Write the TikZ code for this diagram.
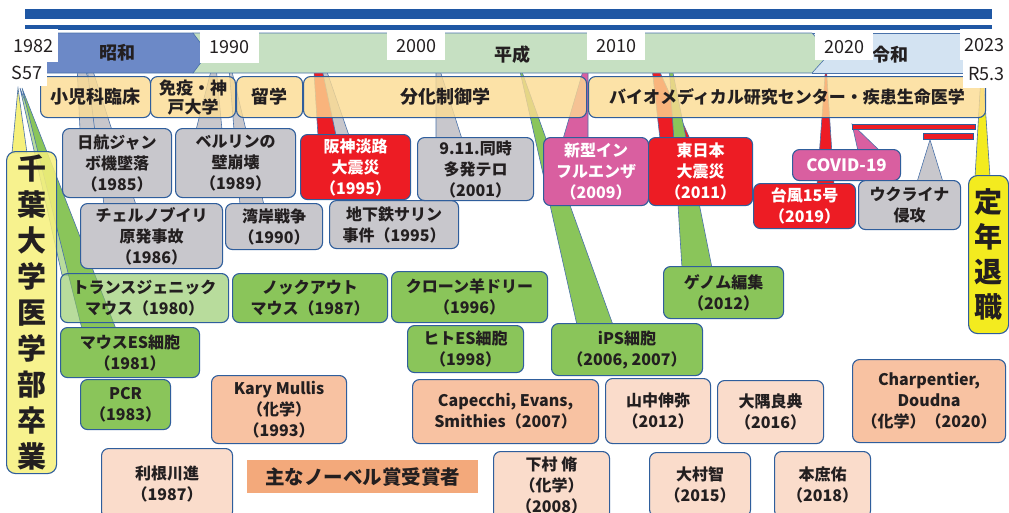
\documentclass[tikz,border=0pt]{standalone}
\usepackage{fontspec}
\setmainfont{Noto Sans CJK JP}
\usetikzlibrary{calc}
\pgfdeclarelayer{bg}
\pgfdeclarelayer{mid}
\pgfsetlayers{bg,mid,main}
\definecolor{bblue}{HTML}{2F5E9C}
\definecolor{topblue}{HTML}{1F57A4}
\definecolor{showa}{HTML}{6C89C7}
\definecolor{heisei}{HTML}{C6E0C2}
\definecolor{reiwa}{HTML}{D3E3F2}
\definecolor{beige}{HTML}{FCDB92}
\definecolor{gbox}{HTML}{C8C7CC}
\definecolor{rbox}{HTML}{ED1C24}
\definecolor{pbox}{HTML}{D95FA0}
\definecolor{grn}{HTML}{8AC55A}
\definecolor{salmon}{HTML}{F8C2A2}
\definecolor{peach}{HTML}{FADCCB}
\definecolor{lbl}{HTML}{F3A97B}
\definecolor{ylw}{HTML}{F6F07B}
\definecolor{ylw2}{HTML}{F3EB1F}
\definecolor{txt}{HTML}{231F20}
\definecolor{ptrline}{HTML}{4A72AA}
\newcommand\callptr[5]{\fill[#1, draw=ptrline, line width=.6pt] ([xshift=#3pt,yshift=-2pt]#2.north west) -- (#5) -- ([xshift=#4pt,yshift=-2pt]#2.north west) -- cycle;}
\tikzset{
  box/.style={draw=bblue, line width=1.1pt, rounded corners=7pt, anchor=north west, inner sep=0pt, align=center, text=txt, font=\bfseries\fontsize{16}{21}\selectfont},
  wbox/.style={box, text=white},
  beigebox/.style={box, fill=beige, fill opacity=0.8, text opacity=1, font=\bfseries\fontsize{18}{20}\selectfont},
  yearlbl/.style={fill=white, inner sep=0pt, anchor=north west, text=txt, font=\fontsize{18}{20}\selectfont},
  eratext/.style={text=txt, font=\bfseries\fontsize{18}{20}\selectfont},
  erashape/.style={draw=ptrline, line width=.6pt},
  vbox/.style={box, rounded corners=9pt, font=\bfseries\fontsize{29}{35.9}\selectfont},
  redbar/.style={draw=bblue, line width=.8pt, fill=rbox, anchor=north west, inner sep=0pt}
}
\begin{document}
\begin{tikzpicture}[x=1pt,y=-1pt]
\clip (0,0) rectangle (1009,512);
\begin{pgfonlayer}{bg}
\fill[white] (0,0) rectangle (1009,512);
\end{pgfonlayer}
% top bars
\fill[topblue] (25,9) rectangle (992,19);
\fill[topblue] (25,25) rectangle (992,30);

% pointer tips
\coordinate (tNikko) at (76,43);
\coordinate (tChern) at (84,43);
\coordinate (tBerlin) at (215,55);
\coordinate (tGulf) at (228,55);
\coordinate (tHanshin) at (312,40);
\coordinate (tSarin) at (316,40);
\coordinate (tTerror) at (436,58);
\coordinate (tFlu) at (588,54);
\coordinate (tTohoku) at (650,50);
\coordinate (tGenome) at (668,48);
\coordinate (tIPS) at (517,58);
\coordinate (tTaifu) at (826,62);
\coordinate (tTeinen) at (982,58);
\coordinate (tChiba) at (18,88);
\coordinate (tTrans) at (20,88);
\coordinate (tMES) at (22,88);

% era bars
\begin{pgfonlayer}{mid}
\fill[reiwa, erashape] (812,33) rectangle (968,73);
\fill[heisei, erashape] (193,33) -- (812,33) -- (830,53) -- (812,73) -- (193,73) -- cycle;
\fill[showa, erashape] (45,33) -- (193,33) -- (208,53) -- (193,73) -- (45,73) -- cycle;
\node[eratext] (showaT) at (117,53) {昭和};
\node[eratext] (heiseiT) at (512,55) {平成};
\node[eratext] (reiwaT) at (890,55) {令和};
% beige row
\node[beigebox, minimum width=110pt, minimum height=41pt] (shoni) at (40,76) {小児科臨床};
\node[beigebox, minimum width=85pt, minimum height=41pt, font=\bfseries\fontsize{17}{19}\selectfont] (meneki) at (150,76) {免疫・神\\戸大学};
\node[beigebox, minimum width=66pt, minimum height=41pt] (ryugaku) at (236,76) {留学};
\node[beigebox, minimum width=283pt, minimum height=41pt] (bunka) at (303,76) {分化制御学};
\node[beigebox, minimum width=397pt, minimum height=41pt, font=\bfseries\fontsize{17}{19}\selectfont] (bio) at (588,76) {バイオメディカル研究センター・疾患生命医学};
\end{pgfonlayer}

% boxes: events
\node[box, fill=gbox, minimum width=109pt, minimum height=69pt] (nikko) at (62,128) {日航ジャン\\ボ機墜落\\（1985）};
\node[box, fill=gbox, minimum width=120pt, minimum height=69pt] (berlin) at (175,128) {ベルリンの\\壁崩壊\\（1989）};
\node[box, fill=gbox, minimum width=142pt, minimum height=65pt] (chern) at (80,203) {チェルノブイリ\\原発事故\\（1986）};
\node[box, fill=gbox, minimum width=97pt, minimum height=46pt] (gulf) at (225,203) {湾岸戦争\\（1990）};
\node[wbox, fill=rbox, minimum width=110pt, minimum height=65pt] (hanshin) at (300,134) {阪神淡路\\大震災\\（1995）};
\node[box, fill=gbox, minimum width=129pt, minimum height=48pt] (sarin) at (329,200) {地下鉄サリン\\事件（1995）};
\node[box, fill=gbox, minimum width=116pt, minimum height=63pt] (terror) at (417,137) {9.11.同時\\多発テロ\\（2001）};
\node[wbox, fill=pbox, minimum width=105pt, minimum height=68pt] (flu) at (543,137) {新型イン\\フルエンザ\\（2009）};
\node[wbox, fill=rbox, minimum width=104pt, minimum height=68pt] (tohoku) at (648,137) {東日本\\大震災\\（2011）};
\node[wbox, fill=rbox, minimum width=102pt, minimum height=45pt] (taifu) at (753,183) {台風15号\\（2019）};
\node[wbox, fill=pbox, minimum width=108pt, minimum height=31pt, font=\bfseries\fontsize{17}{20}\selectfont] (covid) at (792,149) {COVID-19};
\node[box, fill=gbox, minimum width=102pt, minimum height=49pt] (ukraine) at (858,180) {ウクライナ\\侵攻};
\node[redbar, minimum width=123pt, minimum height=5pt] (covbar) at (852,124) {};
\node[redbar, minimum width=50pt, minimum height=6pt] (ukbar) at (923,133) {};
\coordinate (tCovid) at (covbar.north west);
\coordinate (tUkr) at ([xshift=7pt]ukbar.south west);

% green boxes
\node[box, fill=grn, fill opacity=0.6, text opacity=1, minimum width=168pt, minimum height=49pt] (trans) at (60,273) {トランスジェニック\\マウス（1980）};
\node[box, fill=grn, minimum width=155pt, minimum height=49pt] (knock) at (232,273) {ノックアウト\\マウス（1987）};
\node[box, fill=grn, minimum width=156pt, minimum height=51pt] (dolly) at (391,271) {クローン羊ドリー\\（1996）};
\node[box, fill=grn, minimum width=139pt, minimum height=50pt] (mes) at (60,327) {マウスES細胞\\（1981）};
\node[box, fill=grn, minimum width=116pt, minimum height=47pt] (hes) at (407,325) {ヒトES細胞\\（1998）};
\node[box, fill=grn, minimum width=151pt, minimum height=52pt] (ips) at (551,323) {iPS細胞\\（2006, 2007）};
\node[box, fill=grn, minimum width=120pt, minimum height=52pt] (genome) at (663,266) {ゲノム編集\\（2012）};
\node[box, fill=grn, minimum width=90pt, minimum height=50pt] (pcr) at (80,379) {PCR\\（1983）};

% nobel
\node[box, fill=salmon, minimum width=135pt, minimum height=68pt] (mullis) at (211,375) {Kary Mullis\\（化学）\\（1993）};
\node[box, fill=peach, minimum width=131pt, minimum height=70pt] (tonegawa) at (101,448) {利根川進\\（1987）};
\node[fill=lbl, inner sep=0pt, anchor=north west, minimum width=231pt, minimum height=33pt, text=txt, font=\bfseries\fontsize{19.5}{21}\selectfont] (nobellbl) at (247,460) {主なノーベル賞受賞者};
\node[box, fill=salmon, minimum width=186pt, minimum height=64pt] (capecchi) at (412,379) {Capecchi, Evans,\\Smithies（2007）};
\node[box, fill=peach, minimum width=116pt, minimum height=68pt] (shimomura) at (493,451) {下村 脩\\（化学）\\（2008）};
\node[box, fill=peach, minimum width=105pt, minimum height=65pt] (yamanaka) at (605,378) {山中伸弥\\（2012）};
\node[box, fill=peach, minimum width=106pt, minimum height=63pt] (osumi) at (717,380) {大隅良典\\（2016）};
\node[box, fill=salmon, minimum width=153pt, minimum height=83pt] (charp) at (852,359) {Charpentier,\\Doudna\\（化学）（2020）};
\node[box, fill=peach, minimum width=101pt, minimum height=64pt] (omura) at (649,452) {大村智\\（2015）};
\node[box, fill=peach, minimum width=96pt, minimum height=66pt] (honjo) at (774,451) {本庶佑\\（2018）};

% vertical boxes
\node[vbox, fill=ylw, fill opacity=0.85, text opacity=1, minimum width=50pt, minimum height=322pt] (chiba) at (6,151) {千\\葉\\大\\学\\医\\学\\部\\卒\\業};
\node[vbox, fill=ylw2, minimum width=40pt, minimum height=158pt, font=\bfseries\fontsize{28}{35}\selectfont] (teinen) at (968,175) {定\\年\\退\\職};

% pointers (behind)
\begin{pgfonlayer}{bg}
\callptr{gbox}{nikko}{18}{44}{tNikko}
\callptr{gbox}{chern}{24}{56}{tChern}
\callptr{gbox}{berlin}{21}{47}{tBerlin}
\callptr{gbox}{gulf}{15}{39}{tGulf}
\callptr{rbox}{hanshin}{18}{44}{tHanshin}
\callptr{gbox}{sarin}{21}{43}{tSarin}
\callptr{gbox}{terror}{19}{45}{tTerror}
\callptr{pbox}{flu}{20}{45}{tFlu}
\callptr{rbox}{tohoku}{12}{42}{tTohoku}
\callptr{grn}{genome}{19}{49}{tGenome}
\callptr{grn}{ips}{26}{62}{tIPS}
\callptr{pbox}{covid}{66}{88}{tCovid}
\callptr{rbox}{taifu}{64}{81}{tTaifu}
\callptr{gbox}{ukraine}{59}{85}{tUkr}
\callptr{ylw2}{teinen}{7}{22}{tTeinen}
\callptr{ylw}{chiba}{6}{21}{tChiba}
\callptr{grn!60}{trans}{2}{32}{tTrans}
\callptr{grn}{mes}{22}{56}{tMES}
\end{pgfonlayer}

% year labels
\node[yearlbl, minimum width=50pt, minimum height=33pt] (y1982) at (8,29) {1982};
\node[yearlbl, minimum width=40pt, minimum height=26pt] (s57) at (7,60) {S57};
\node[yearlbl, minimum width=59pt, minimum height=33pt] (y1990) at (200,30) {1990};
\node[yearlbl, minimum width=58pt, minimum height=28pt] (y2000) at (387,32) {2000};
\node[yearlbl, minimum width=58pt, minimum height=28pt] (y2010) at (587,32) {2010};
\node[yearlbl, minimum width=58pt, minimum height=27pt] (y2020) at (815,33) {2020};
\node[yearlbl, minimum width=49pt, minimum height=31pt] (y2023) at (960,29) {2023};
\node[yearlbl, minimum width=46pt, minimum height=29pt] (r53) at (963,59) {R5.3};
\end{tikzpicture}
\end{document}
